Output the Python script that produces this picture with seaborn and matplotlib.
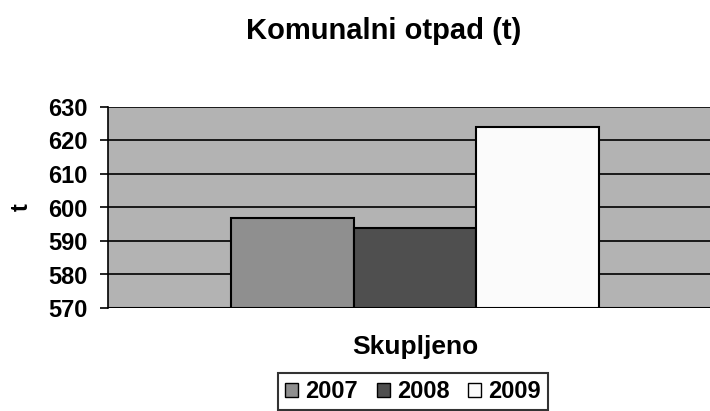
import pandas as pd
import matplotlib.pyplot as plt
import seaborn as sns

# data
years = ['2007', '2008', '2009']
category = ['Skupljeno']
values = [597, 594, 624]
bar_colors = ['#8f8f8f', '#4f4f4f', '#fbfbfb']

df = pd.DataFrame({'Kategorija': category * len(years), 'Godina': years, 't': values})

sns.set_style('white')
plt.rcParams['font.family'] = ['Liberation Sans', 'DejaVu Sans']
plt.rcParams['font.weight'] = 'bold'
plt.rcParams['text.color'] = 'black'
plt.rcParams['axes.labelcolor'] = 'black'
plt.rcParams['ytick.color'] = 'black'
plt.rcParams['xtick.color'] = 'black'

fig = plt.figure(figsize=(7.1, 4.11), dpi=100)
ax = fig.add_axes([108/710, 103/411, 614/710, 201/411])
ax.set_facecolor('#b3b3b3')

sns.barplot(data=df, x='Kategorija', y='t', hue='Godina', palette=bar_colors,
            width=0.6, edgecolor='black', linewidth=1.5, saturation=1, ax=ax, legend=False)

ax.set_ylim(570, 630)
ax.set_xlim(-0.5, 0.5)
ax.set_yticks(range(570, 631, 10))
ax.yaxis.grid(True, color='black', linewidth=1.2)
ax.set_axisbelow(True)
for s in ['top', 'right', 'bottom']:
    ax.spines[s].set_visible(False)
ax.spines['left'].set_color('black')
ax.spines['left'].set_linewidth(1.2)
ax.axhline(570, color='black', linewidth=1.5, zorder=3)
ax.tick_params(axis='y', left=True, length=5.8, width=1.2, color='black', labelsize=17, pad=9)
ax.set_xticks([])
ax.set_xlabel('')
ax.set_ylabel('')

fig.text(21/710, 1 - 207/411, 't', rotation=90, ha='center', va='center', fontsize=17, fontweight='bold')
fig.text(384/710, 1 - 31/411, 'Komunalni otpad (t)', ha='center', va='center', fontsize=21, fontweight='bold')
fig.text(415/710, 1 - 347/411, 'Skupljeno', ha='center', va='center', fontsize=19, fontweight='bold')

handles = [plt.Rectangle((0, 0), 1, 1, facecolor=c, edgecolor='black', linewidth=1) for c in bar_colors]
leg = fig.legend(handles, years, loc='upper center', bbox_to_anchor=(413/710, 1 - 373/411), ncol=3,
                 frameon=True, fancybox=False, edgecolor='black', fontsize=17,
                 handlelength=0.55, handleheight=0.55, handletextpad=0.3, columnspacing=0.8,
                 borderpad=0.3, borderaxespad=0)
leg.get_frame().set_linewidth(1.5)

fig.savefig('out.png', dpi=100)
